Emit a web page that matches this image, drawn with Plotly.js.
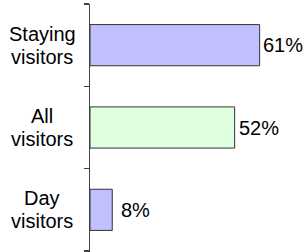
<!DOCTYPE html>
<html>
<head>
<meta charset="utf-8">
<script src="https://cdn.plot.ly/plotly-3.0.1.min.js"></script>
<style>html,body{margin:0;padding:0;background:#fff;}#chart{width:305px;height:252px;}</style>
</head>
<body>
<div id="chart"></div>
<script>
var categories = [["Day", "visitors"], ["All", "visitors"], ["Staying", "visitors"]];
var values = [8, 52, 61];
var valueLabels = ["8%", "52%", "61%"];
var barColors = ["#C0C0FF", "#E0FFE0", "#C0C0FF"];

var FONT = "Liberation Sans, Arial, sans-serif";
var labelGaps = [10, 5, 4];

var trace = {
  type: "bar",
  orientation: "h",
  y: [0, 1, 2],
  x: values,
  cliponaxis: false,
  marker: {color: barColors, line: {color: "#333333", width: 1}},
  hoverinfo: "none"
};

var annotations = [];
categories.forEach(function (lines, i) {
  lines.forEach(function (line, j) {
    annotations.push({
      text: line, xref: "paper", yref: "y", x: -0.223, y: i,
      xanchor: "center", yanchor: "middle", align: "center", showarrow: false,
      yshift: (j === 0 ? 11.5 : -11.5),
      font: {family: FONT, size: 20, color: "#000"}
    });
  });
});
values.forEach(function (v, i) {
  annotations.push({
    text: valueLabels[i], xref: "x", yref: "y", x: v, y: i,
    xanchor: "left", yanchor: "middle", showarrow: false, xshift: labelGaps[i] - 3,
    font: {family: FONT, size: 20, color: "#000"}
  });
});

var layout = {
  width: 305, height: 252,
  margin: {l: 90, r: 0, t: 4, b: 0, pad: 0},
  paper_bgcolor: "#fff", plot_bgcolor: "#fff",
  showlegend: false,
  bargap: 0.5,
  xaxis: {range: [0, 77.3], visible: false, fixedrange: true},
  yaxis: {
    range: [-0.512, 2.5], tickmode: "array", tickvals: [-0.5, 0.5, 1.5, 2.5],
    showticklabels: false, ticks: "outside", ticklen: 5, tickwidth: 1.5, tickcolor: "#404040",
    showline: true, linecolor: "#404040", linewidth: 1.5, showgrid: false, zeroline: false, fixedrange: true
  },
  annotations: annotations
};

Plotly.newPlot("chart", [trace], layout, {displayModeBar: false, staticPlot: true});
</script>
</body>
</html>
